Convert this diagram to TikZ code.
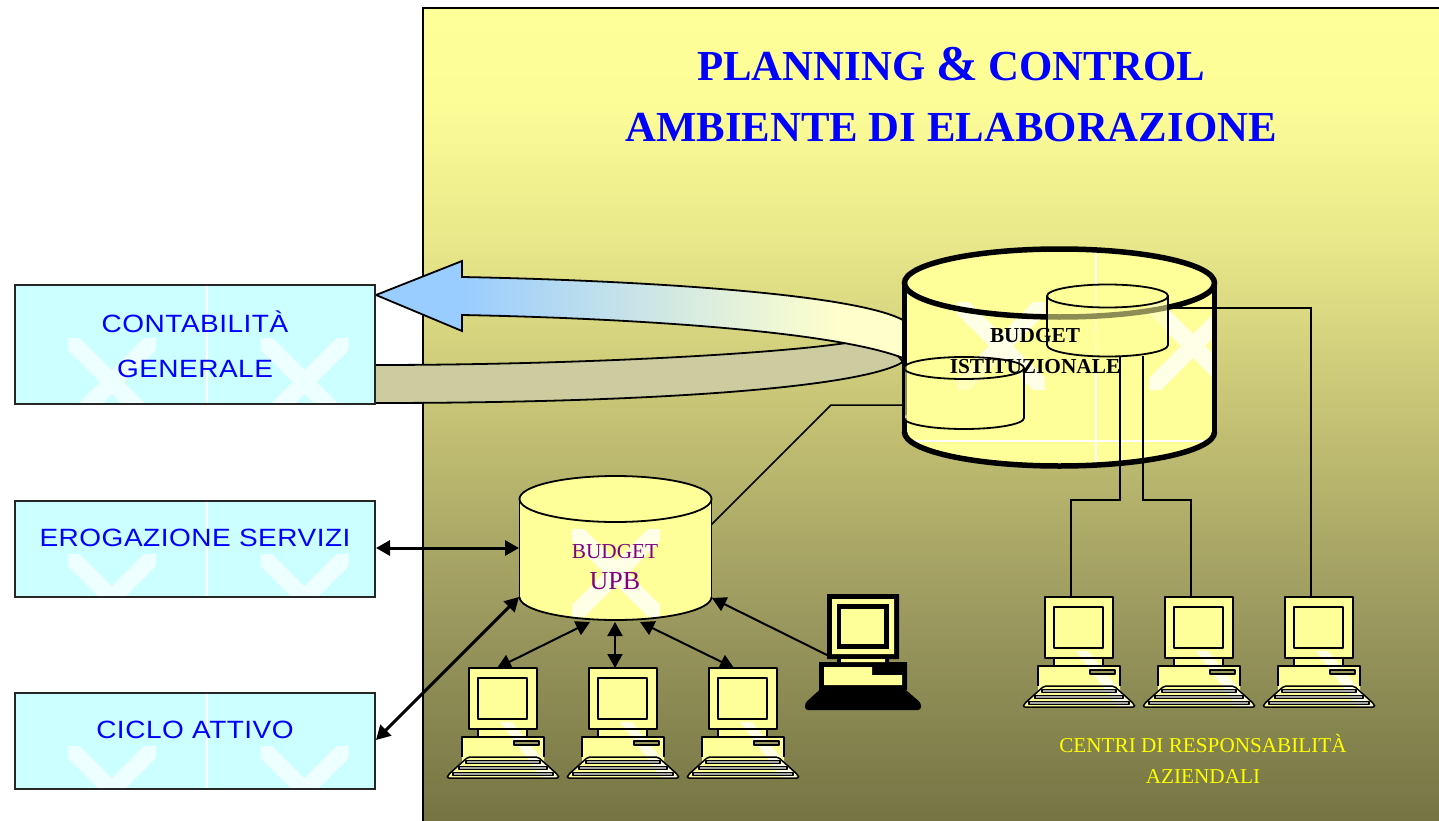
\documentclass[tikz,border=0pt]{standalone}
\usepackage{fontspec}
\setmainfont{Liberation Serif}
\newfontfamily\boxfont[LetterSpace=2,FakeStretch=1.12]{Liberation Sans}
\usetikzlibrary{arrows.meta}
\definecolor{cylfill}{HTML}{FFFF99}
\definecolor{boxfillc}{HTML}{CCFFFF}
\definecolor{boxmark}{HTML}{EEFFFF}
\definecolor{cylmark}{HTML}{FFFFE8}
\definecolor{purpletext}{HTML}{800080}
\definecolor{yellowtext}{HTML}{FFFF00}
\definecolor{tanband}{HTML}{CCCCA0}
\definecolor{pa}{HTML}{757544}
\definecolor{pb}{HTML}{9A985E}
\definecolor{pc}{HTML}{C0BD72}
\definecolor{pd}{HTML}{E9E88A}
\definecolor{pe}{HTML}{FDFD98}
\definecolor{pf}{HTML}{FFFF99}
\definecolor{aa}{HTML}{99CCFF}
\definecolor{ab}{HTML}{FFFFCC}
\pgfdeclareverticalshading{panelsh}{100bp}{color(0bp)=(pa); color(25bp)=(pa); color(37.35bp)=(pb); color(48.45bp)=(pc); color(60.75bp)=(pd); color(69.35bp)=(pe); color(75bp)=(pf); color(100bp)=(pf)}
\pgfdeclarehorizontalshading{arrowsh}{100bp}{color(0bp)=(aa); color(33bp)=(aa); color(69bp)=(ab); color(100bp)=(ab)}
\tikzset{
 x=1pt,y=-1pt,
 panel/.style={shading=panelsh,shading angle=0},
 mainbox/.style={fill=boxfillc,minimum width=360pt,inner sep=0pt,outer sep=0pt},
 boxline/.style={draw=black!85,line width=1.8pt},
 boxtext/.style={text=blue,font=\boxfont\fontsize{25}{45}\selectfont,align=center,inner sep=0pt},
 thin link/.style={draw=black,line width=1.5pt},
 dbl/.style={draw=black,line width=2pt,{Triangle[length=14pt,width=15pt]}-{Triangle[length=14pt,width=15pt]}},
 dblthick/.style={draw=black,line width=3pt,{Triangle[length=14pt,width=15pt]}-{Triangle[length=14pt,width=15pt]}},
 sgl/.style={draw=black,line width=2pt,-{Triangle[length=14pt,width=15pt]}},
 pcline/.style={draw=black,line width=1.5pt,line join=round},
 label/.style={inner sep=0pt,outer sep=0pt,align=center},
 titletext/.style={inner sep=0pt,outer sep=0pt,anchor=base,text=blue,font=\bfseries\fontsize{42.8}{44}\selectfont},
}
% X watermark centred on #1,#2 in colour #3
\newcommand\markx[3]{%
 \fill[#3] (#1-44,#2-44)--(#1-32,#2-44)--(#1+44,#2+32)--(#1+44,#2+44)--(#1+32,#2+44)--(#1-44,#2-32)--cycle;
 \fill[#3] (#1+44,#2-44)--(#1+32,#2-44)--(#1-44,#2+32)--(#1-44,#2+44)--(#1-32,#2+44)--(#1+44,#2-32)--cycle;}
% cylinder: cx, rx, top centre y, bottom centre y, ry, line width, fill opacity, overlay code
\newcommand\cylinder[8]{%
 \fill[cylfill,fill opacity=#7] (#1,#4) ellipse [x radius=#2pt,y radius=#5pt];
 \begin{scope}\clip (#1-#2,#3) rectangle (#1+#2,#4-0.01);
  \fill[cylfill,fill opacity=#7] (#1-#2,#3-#5) rectangle (#1+#2,#4);
 \end{scope}
 \begin{scope}\clip (#1,#3) ellipse [x radius=#2pt,y radius=#5pt];
  \fill[cylfill,fill opacity=#7] (#1-#2,#3-#5) rectangle (#1+#2,#3-0.01);
 \end{scope}
 #8
 \begin{scope}\clip (#1-#2-10,#4) rectangle (#1+#2+10,#4+#5+10);
  \draw[line width=#6pt] (#1,#4) ellipse [x radius=#2pt,y radius=#5pt];
 \end{scope}
 \draw[line width=#6pt] (#1-#2,#3) -- (#1-#2,#4) (#1+#2,#3) -- (#1+#2,#4);
 \draw[line width=#6pt] (#1,#3) ellipse [x radius=#2pt,y radius=#5pt];}
% computer with monitor's top-left corner at #1,#2
\newcommand\computer[2]{%
 \begin{scope}[shift={(#1,#2)}]
  \fill[cylfill] (0,0) rectangle (68,61) (9,61) rectangle (58,69) (-7,69) rectangle (75,95);
  \fill[cylfill,rounded corners=2pt] (-1,89)--(69,89)--(89,107)--(90,110)--(-22,110)--(-21,107)--cycle;
  \begin{scope}
   \clip (0,0) rectangle (68,61) (9,61) rectangle (58,69) (-7,69) rectangle (75,89) (-22,89) rectangle (90,110);
   \fill[cylmark] (31,54)--(43,54)--(88,110)--(73,110)--cycle;
  \end{scope}
  \draw[pcline] (0,0) rectangle (68,61);
  \draw[pcline] (9,10) rectangle (58,51);
  \draw[pcline] (9,61) -- (9,69) (58,61) -- (58,69);
  \draw[pcline] (-7,89) -- (-7,69) -- (75,69) -- (75,89);
  \draw[pcline,fill=pb] (45,73) rectangle (70,77);
  \draw[pcline,rounded corners=2pt] (-1,89)--(69,89)--(89,107)--(90,110)--(-22,110)--(-21,107)--cycle;
  \draw[pcline,fill=gray!70] (-3,92.5) rectangle (71,95.5);
  \draw[pcline,fill=gray!70] (-10,98.5) rectangle (78,101.5);
  \draw[pcline,fill=gray!70] (-16,104.5) rectangle (84,107.5);
 \end{scope}}
\begin{document}
\begin{tikzpicture}
\useasboundingbox (0,0) rectangle (1439,821);
\fill[white] (0,0) rectangle (1439,821);
% panel
\path[panel] (423,8) rectangle (1439,821);
\draw[line width=1.5pt] (423,821) -- (423,8) -- (1439,8);
\node[titletext] (title1) at (951,80.5) {PLANNING {\fontsize{50}{50}\selectfont\&} CONTROL};
\node[titletext] (title2) at (951,142) {AMBIENTE DI ELABORAZIONE};
% named points for connectors
\coordinate (tanA) at (375,365);
\coordinate (tanB) at (375,403);
\coordinate (upbTR) at (711,525);
\coordinate (bigL) at (904,405);
\coordinate (elbowA) at (831,405);
\coordinate (esE) at (376,548);
\coordinate (caE) at (376,740);
\coordinate (upbL) at (519,548);
\coordinate (upbLL) at (519,597);
\coordinate (upbB1) at (590,622);
\coordinate (upbB2) at (615,622);
\coordinate (upbB3) at (640,622);
\coordinate (upbR) at (712,598);
\coordinate (pc1) at (497,668);
\coordinate (pc2) at (615,668);
\coordinate (pc3) at (734,668);
\coordinate (pc4) at (827,655);
\coordinate (rc1) at (1071,597);
\coordinate (rc2) at (1191,597);
\coordinate (rc3) at (1311,597);
\coordinate (dbA) at (1120,356);
\coordinate (dbB) at (1143,356);
\coordinate (dbC) at (1168,308);
% tan band and arrow
\draw[fill=tanband,line width=1.8pt] (tanA) .. controls (560,365) and (770,355) .. (853,342) -- (885,340) -- (903,362) .. controls (860,388) and (650,403) .. (tanB) -- cycle;
\path[draw=black,line width=1.8pt,shading=arrowsh,shading angle=0] (376,295) -- (462,261) -- (462,277) .. controls (620,280) and (850,292) .. (903,320) -- (903,358) .. controls (830,330) and (620,318) .. (462,315) -- (462,331) -- cycle;
% left boxes
\node[mainbox,minimum height=119pt,anchor=north west] (cg) at (15,285) {};
\node[mainbox,minimum height=96pt,anchor=north west] (es) at (15,501) {};
\node[mainbox,minimum height=96pt,anchor=north west] (ca) at (15,693) {};
\begin{scope}\clip (15,285) rectangle (375,404);
 \markx{112}{382}{boxmark}\markx{304.5}{382}{boxmark}
 \fill[white] (206,285) rectangle (208,404);
\end{scope}
\begin{scope}\clip (15,501) rectangle (375,597);
 \markx{112}{598}{boxmark}\markx{304.5}{598}{boxmark}
 \fill[white] (206,501) rectangle (208,597);
\end{scope}
\begin{scope}\clip (15,693) rectangle (375,789);
 \markx{112}{790}{boxmark}\markx{304.5}{790}{boxmark}
 \fill[white] (206,693) rectangle (208,789);
\end{scope}
\draw[boxline] (cg.north west) rectangle (cg.south east);
\draw[boxline] (es.north west) rectangle (es.south east);
\draw[boxline] (ca.north west) rectangle (ca.south east);
\node[boxtext] (cgt) at (195,344) {CONTABILITÀ\\GENERALE};
\node[boxtext] (est) at (195,538) {EROGAZIONE SERVIZI};
\node[boxtext] (cat) at (195,730) {CICLO ATTIVO};
% connection UPB -> big db
\draw[thin link] (upbTR) -- (elbowA) -- (bigL);
% big cylinder
\cylinder{1059.5}{155}{283}{432}{34}{5.5}{1}{%
 \begin{scope}\clip (904,240) rectangle (1215,470);
  \markx{1001}{346}{cylmark}\markx{1193}{346}{cylmark}
 \end{scope}
 \fill[white] (1095,252) rectangle (1097,462);
 \fill[white] (915,440) rectangle (1205,442);}
\cylinder{964}{60}{368}{418}{11}{1.8}{0.55}{}
\cylinder{1107.5}{60.5}{296}{345}{11.5}{1.8}{0.55}{}
\node[label,font=\bfseries\fontsize{21.3}{21.3}\selectfont] (bi1) at (1035,336) {BUDGET};
\node[label,font=\bfseries\fontsize{21.3}{21.3}\selectfont] (bi2) at (1035,367) {ISTITUZIONALE};
\draw[thin link] (dbC) -| (rc3);
\draw[thin link] (dbA) -- (1120,500) -- (1071,500) -- (rc1);
\draw[thin link] (dbB) -- (1143,500) -- (1191,500) -- (rc2);
% UPB cylinder
\cylinder{615.5}{96}{499}{597}{23}{1.8}{1}{\markx{616}{573}{cylmark}}
\node[label,text=purpletext,font=\fontsize{21.3}{21.3}\selectfont] (u1) at (615,552) {BUDGET};
\node[label,text=purpletext,font=\fontsize{26}{26}\selectfont] (u2) at (615,581) {UPB};
% computers
\computer{469}{668}\computer{589}{668}\computer{709}{668}
\computer{1045}{597}\computer{1165}{597}\computer{1285}{597}
% black computer
\fill[black] (827,594) rectangle (899,659) (837,659) rectangle (889,662) (819,662) rectangle (907,690);
\fill[black,rounded corners=3pt] (825,685)--(900,685)--(921,703)--(921,710)--(805,710)--(805,703)--cycle;
\fill[cylfill] (832,599) rectangle (894,654) (841,659) rectangle (885,662);
\fill[black] (837,604) rectangle (889,649);
\fill[cylfill] (841,609) rectangle (884,644);
\fill[cylfill] (824,667)--(872,667)--(872,675)--(902,675)--(902,685)--(824,685)--cycle;
% arrows
\draw[dblthick] (esE) -- (upbL);
\draw[dblthick] (caE) -- (upbLL);
\draw[dbl] (pc1) -- (upbB1);
\draw[dbl] (pc2) -- (upbB2);
\draw[dbl] (pc3) -- (upbB3);
\draw[sgl] (pc4) -- (upbR);
% label
\node[label,text=yellowtext,font=\fontsize{21.2}{31}\selectfont] (cr) at (1203,758.5) {CENTRI DI RESPONSABILITÀ\\AZIENDALI};
\end{tikzpicture}
\end{document}
